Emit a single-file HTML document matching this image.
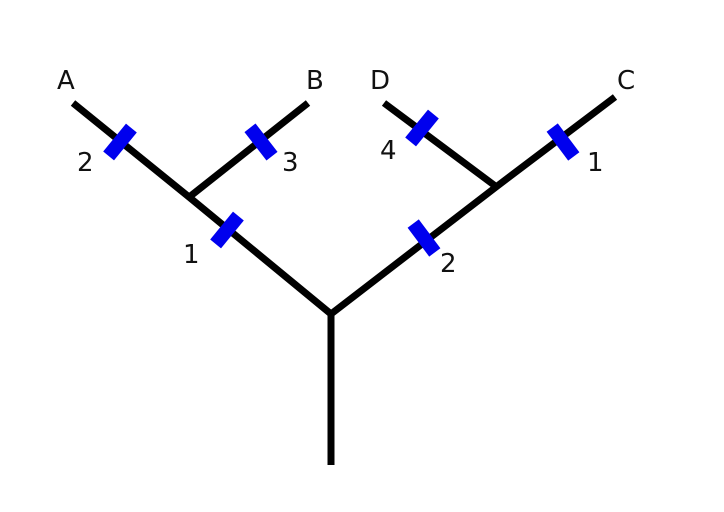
<!DOCTYPE html>
<html><head><style>
html,body{margin:0;padding:0;background:#fff;width:724px;height:512px;overflow:hidden}
svg{display:block}
text{font-family:"DejaVu Sans","Liberation Sans",sans-serif;font-size:26px;fill:#111}
</style></head><body>
<svg width="724" height="512" viewBox="0 0 724 512">
<g stroke="#000" stroke-width="7" stroke-linecap="butt" fill="none">
<line x1="331" y1="311" x2="331" y2="465"/>
<polyline points="73,103 189,197 331,314"/>
<line x1="188" y1="198" x2="308" y2="103"/>
<polyline points="331,314 496,187 615,97"/>
<line x1="384" y1="103" x2="498" y2="188"/>
</g>
<g stroke="#0000ee" stroke-width="14">
<line x1="131.4" y1="128.1" x2="108.6" y2="155.9"/>
<line x1="238.4" y1="216.1" x2="215.6" y2="243.9"/>
<line x1="250" y1="127.8" x2="272" y2="156.2"/>
<line x1="433.4" y1="114.1" x2="410.6" y2="141.9"/>
<line x1="552.2" y1="127.6" x2="573.8" y2="156.4"/>
<line x1="413.2" y1="223.6" x2="434.8" y2="252.4"/>
</g>
<text x="57" y="89">A</text>
<text x="306" y="89">B</text>
<text x="370" y="89">D</text>
<text x="617" y="89">C</text>
<text x="77" y="171">2</text>
<text x="282" y="171">3</text>
<text x="183" y="263">1</text>
<text x="380" y="159">4</text>
<text x="587" y="171">1</text>
<text x="440" y="272">2</text>
</svg>
</body></html>
